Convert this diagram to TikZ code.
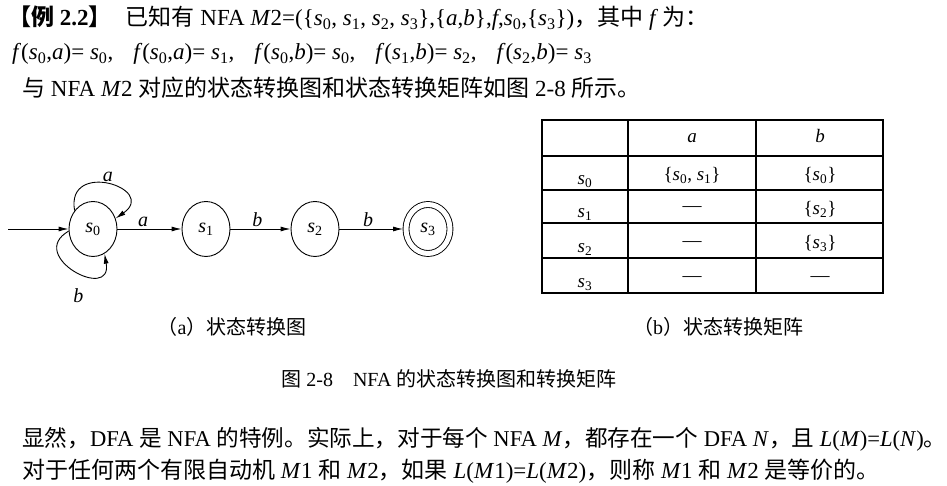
\documentclass[tikz,border=0pt]{standalone}
\usepackage{fontspec}
\setmainfont{Liberation Serif}
\newfontfamily\cjk{Noto Sans CJK SC}
\usetikzlibrary{arrows.meta,shapes.geometric}
\newcommand\sv[1]{\textit{s}\textsubscript{#1}}
\newcommand\fmap[3]{\textit{f}(\sv{#1},\textit{#2})=~\sv{#3}}
\tikzset{
	txt/.style={anchor=base west,inner sep=0pt,font=\fontsize{23}{28}\selectfont},
	captxt/.style={anchor=base,inner sep=0pt,font=\fontsize{20}{24}\selectfont},
	state/.style={draw,ellipse,line width=0.9pt,minimum width=48pt,minimum height=55pt,inner sep=0pt,font=\fontsize{20}{24}\selectfont},
	accept/.style={state,double,double distance=5pt,minimum width=44pt,minimum height=49pt,outer sep=3pt},
	trans/.style={line width=0.9pt,-{Latex[length=10pt,width=5pt]}},
	lbl/.style={inner sep=2pt,font=\fontsize{20}{24}\selectfont\itshape},
	grid/.style={line width=1.1pt},
	cell/.style={anchor=base,inner sep=0pt,font=\fontsize{19}{23}\selectfont}
}
\begin{document}
\begin{tikzpicture}[x=1pt,y=1pt]
		\useasboundingbox (0,0) rectangle (947,486);

		\node[txt] (l1) at (8,460) {{\cjk\bfseries 【例} \textbf{2.2}{\cjk\bfseries 】}\hspace{14pt}{\cjk 已知有}~NFA~\textit{M}2=(\{\sv0,~\sv1,~\sv2,~\sv3\},\{\textit{a},\textit{b}\},\textit{f},\sv0,\{\sv3\}){\cjk ，其中}~\textit{f}\,{\cjk 为：}};
		\node[txt] (l2) at (12,426) {\fmap0a0,\hspace{20pt}\fmap0a1,\hspace{20pt}\fmap0b0,\hspace{20pt}\fmap1b2,\hspace{20pt}\fmap2b3};
		\node[txt] (l3) at (22,389) {{\cjk 与}~NFA~\textit{M}2~{\cjk 对应的状态转换图和状态转换矩阵如图}~2-8~{\cjk 所示。}};

		\node[state] (s0) at (93,257) {\sv0};
		\node[state] (s1) at (206,257) {\sv1};
		\node[state] (s2) at (315,257) {\sv2};
		\node[accept] (s3) at (428,257) {\sv3};
		\coordinate (init) at (8,257);

		\draw[trans] (init) -- (s0);
		\draw[trans] (s0) -- node[lbl,above,pos=0.4] {a} (s1);
		\draw[trans] (s1) -- node[lbl,above,pos=0.45] {b} (s2);
		\draw[trans] (s2) -- node[lbl,above,pos=0.45] {b} (s3);
		\draw[trans] (s0.135) to[out=100,in=35,looseness=3.2] node[lbl,above,pos=0.5] {a} (s0.25);
		\draw[trans] (s0.185) to[out=210,in=280,looseness=3] node[lbl,below=14pt,pos=0.55] {b} (s0.295);

		\draw[grid] (542,193) rectangle (883,366);
		\foreach \y in {330,296,263,228}
			\draw[grid] (542,\y) -- (883,\y);
		\foreach \x in {628,756}
			\draw[grid] (\x,193) -- (\x,366);

		\node[cell] (ha) at (692,343) {\textit{a}};
		\node[cell] (hb) at (820,343) {\textit{b}};
		\node[cell] (r0) at (585,301) {\sv0};
		\node[cell] (r1) at (585,268) {\sv1};
		\node[cell] (r2) at (585,233) {\sv2};
		\node[cell] (r3) at (585,198) {\sv3};
		\node[cell] (a0) at (692,305) {\{\sv0,~\sv1\}};
		\node[cell] (b0) at (820,305) {\{\sv0\}};
		\node[cell] (a1) at (692,274) {---};
		\node[cell] (b1) at (820,271) {\{\sv2\}};
		\node[cell] (a2) at (692,239) {---};
		\node[cell] (b2) at (820,237) {\{\sv3\}};
		\node[cell] (a3) at (692,204) {---};
		\node[cell] (b3) at (820,204) {---};

		\node[captxt] (capa) at (232,151) {{\cjk （}a{\cjk ）状态转换图}};
		\node[captxt] (capb) at (718,151) {{\cjk （}b{\cjk ）状态转换矩阵}};
		\node[captxt] (fig) at (449,99) {{\cjk 图}~2-8\quad NFA~{\cjk 的状态转换图和转换矩阵}};

		\node[txt,font=\fontsize{22.6}{28}\selectfont] (p1) at (22,39) {{\cjk 显然，}DFA~{\cjk 是}~NFA~{\cjk 的特例。实际上，对于每个}~NFA~\textit{M}{\cjk ，都存在一个}~DFA~\textit{N}{\cjk ，且}~\textit{L}(\textit{M})=\textit{L}(\textit{N}){\cjk 。}};
		\node[txt] (p2) at (22,7) {{\cjk 对于任何两个有限自动机}~\textit{M}1~{\cjk 和}~\textit{M}2{\cjk ，如果}~\textit{L}(\textit{M}1)=\textit{L}(\textit{M}2){\cjk ，则称}~\textit{M}1~{\cjk 和}~\textit{M}2~{\cjk 是等价的。}};
	\end{tikzpicture}
\end{document}
